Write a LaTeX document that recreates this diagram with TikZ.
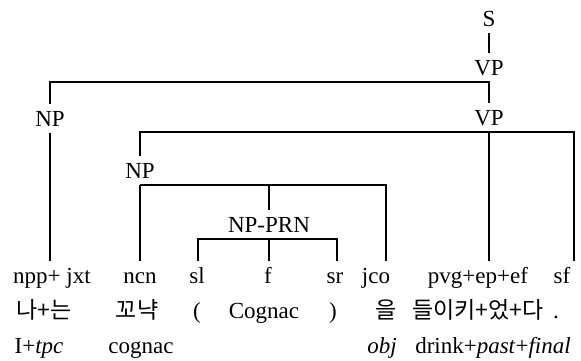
\documentclass[tikz,border=0pt]{standalone}
\usepackage{fontspec}
\setmainfont{Liberation Serif}
\newfontfamily\kr{Noto Sans CJK KR}
\tikzset{
  lbl/.style={anchor=base, inner sep=0pt, outer xsep=0pt, outer ysep=7pt,
    text height=15pt, text depth=0pt, font=\fontsize{23}{27}\selectfont},
  edge/.style={draw=black, line width=1.2pt}
}
\begin{document}
\begin{tikzpicture}[x=1pt,y=-1pt]
\useasboundingbox (0,0) rectangle (581,360);
% internal nodes
\node[lbl] (s) at (489,26) {S};
\node[lbl] (vp1) at (489,75) {VP};
\node[lbl] (np1) at (50,126) {NP};
\node[lbl] (vp2) at (489,125) {VP};
\node[lbl] (np2) at (140,178) {NP};
\node[lbl] (nprn) at (269,232) {NP-PRN};
% row 1: tags
\node[lbl] (npp) at (52,283) {npp+ jxt};
\node[lbl] (ncn) at (140,283) {ncn};
\node[lbl] (sl) at (197,283) {sl};
\node[lbl] (f) at (268,283) {f};
\node[lbl] (sr) at (335,283) {sr};
\node[lbl] (jco) at (376,283) {jco};
\node[lbl] (pvg) at (478,283) {pvg+ep+ef};
\node[lbl] (sf) at (562,283) {sf};
% row 2: Korean / tokens
\node[lbl] (w1) at (44,318) {\kr 나+는};
\node[lbl] (w2) at (137,318) {\kr 꼬냑};
\node[lbl] (w3) at (197,318) {(};
\node[lbl] (w4) at (264,318) {Cognac};
\node[lbl] (w5) at (333,318) {)};
\node[lbl] (w6) at (386,318) {\kr 을};
\node[lbl] (w7) at (478,318) {\kr 들이키+었+다};
\node[lbl] (w8) at (556,318) {.};
% row 3: glosses
\node[lbl] (g1) at (39,353) {I+\textit{tpc}};
\node[lbl] (g2) at (141,353) {cognac};
\node[lbl] (g3) at (382,353) {\textit{obj}};
\node[lbl] (g4) at (493,353) {drink+\textit{past}+\textit{final}};
% connectors
\draw[edge] (s) -- (vp1);
\draw[edge] (np1.north) |- (vp1.south) -- (vp2.north);
\draw[edge] (np1.south) -- (np1.south |- npp.north);
\draw[edge] (np2.north) |- (vp2.south) -| ([xshift=12pt]sf.north);
\draw[edge] (vp2.south) -- (vp2.south |- pvg.north);
\draw[edge] (np2.south) -- (np2.south |- ncn.north);
\draw[edge] (np2.south) -| ([xshift=10pt]jco.north);
\draw[edge] (nprn.north) -- (nprn.north |- np2.south);
\draw[edge] ([xshift=1pt]sl.north) |- (nprn.south) -| ([xshift=2pt]sr.north);
\draw[edge] (nprn.south) -- (nprn.south |- f.north);
\end{tikzpicture}
\end{document}
